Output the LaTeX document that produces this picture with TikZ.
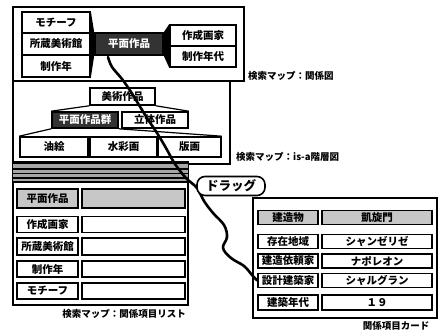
\documentclass[tikz,border=0pt]{standalone}
\usepackage{fontspec}
\setmainfont{Noto Sans CJK JP}
\begin{document}
\begin{tikzpicture}[x=1pt,y=-1pt,
  panel/.style={draw, line width=1.2pt, inner sep=0pt},
  box/.style={draw, line width=1.6pt, fill=white, inner sep=0pt, font=\bfseries\fontsize{10.5}{12}\selectfont},
  hatchbox/.style={box, fill=black!22},
  darkbox/.style={box, fill=black!80, text=white},
  capt/.style={font=\bfseries\fontsize{9.5}{11}\selectfont, inner sep=0pt},
  dragline/.style={line width=2.6pt, line cap=round, line join=round},
  linkline/.style={line width=1.2pt}]
\useasboundingbox (0,0) rectangle (441,336);

% ---------- top panel: relation map ----------
\node[panel, minimum width=231, minimum height=74] (relp) at (128.5,44) {};
\node[box, minimum width=68, minimum height=21] (l1) at (56,22.5) {モチーフ};
\node[box, minimum width=68, minimum height=21] (l2) at (56,44) {所蔵美術館};
\node[box, minimum width=68, minimum height=22] (l3) at (56,66) {制作年};
\node[darkbox, minimum width=68, minimum height=22] (hub) at (129,44) {平面作品};
\node[box, minimum width=66, minimum height=21] (r1) at (203,35.5) {作成画家};
\node[box, minimum width=66, minimum height=21] (r2) at (203,56.5) {制作年代};
\fill (l1.north east) -- (hub.north west) -- (hub.south west) -- (l3.south east) -- cycle;
\fill (hub.north east) -- (r1.north west) -- (r2.south west) -- (hub.south east) -- cycle;
\node[capt, anchor=west] (relcap) at (248,76) {検索マップ：関係図};

% ---------- middle panel: is-a hierarchy ----------
\node[panel, minimum width=217, minimum height=83] (isap) at (121.5,122.5) {};
\node[box, minimum width=65, minimum height=17] (art) at (122.5,96.5) {美術作品};
\node[darkbox, minimum width=66, minimum height=16] (flat) at (85,120) {平面作品群};
\node[box, minimum width=66, minimum height=16] (solid) at (155,120) {立体作品};
\node[box, minimum width=68, minimum height=20] (oil) at (54,147) {油絵};
\node[box, minimum width=67, minimum height=20] (water) at (123.5,147) {水彩画};
\node[box, minimum width=63, minimum height=20] (print) at (189.5,147) {版画};
\draw[linkline] (art.south west) -- (flat.north west);
\draw[linkline] (art.south east) -- (solid.north east);
\draw[linkline] (flat.south west) -- (oil.north west);
\draw[linkline] (flat.south east) -- (print.north east);
\node[capt, anchor=west] (isacap) at (236,157) {検索マップ：is-a階層図};

% ---------- bottom-left panel: item list ----------
\node[panel, minimum width=175, minimum height=143] (listp) at (100.5,233.5) {};
\fill[black!35] (13,162) rectangle (188,183);
\foreach \yy/\ww in {163/1.2, 169/2.2, 173.5/1.4, 178/2, 182/1.4}
  \draw[line width=\ww pt] (13,\yy) -- (188,\yy);
\node[hatchbox, minimum width=61, minimum height=19] (a0) at (47.5,198.5) {平面作品};
\node[hatchbox, minimum width=103, minimum height=19] (b0) at (133.5,198.5) {};
\node[box, minimum width=61, minimum height=16] (a1) at (47.5,224.5) {作成画家};
\node[box, minimum width=103, minimum height=16] (b1) at (133.5,224.5) {};
\node[box, minimum width=61, minimum height=17] (a2) at (47.5,246.5) {所蔵美術館};
\node[box, minimum width=103, minimum height=17] (b2) at (133.5,246.5) {};
\node[box, minimum width=61, minimum height=16] (a3) at (47.5,269) {制作年};
\node[box, minimum width=103, minimum height=16] (b3) at (133.5,269) {};
\node[box, minimum width=61, minimum height=16] (a4) at (47.5,291) {モチーフ};
\node[box, minimum width=103, minimum height=16] (b4) at (133.5,291) {};
\node[capt] (listcap) at (124,314) {検索マップ：関係項目リスト};

% ---------- bottom-right panel: item card ----------
\node[panel, minimum width=184, minimum height=120] (cardp) at (345,258) {};
\node[hatchbox, minimum width=60, minimum height=14] (k0) at (288,217.5) {建造物};
\node[hatchbox, minimum width=110, minimum height=14] (v0) at (377,217.5) {凱旋門};
\node[box, minimum width=60, minimum height=14] (k1) at (288,241.5) {存在地域};
\node[box, minimum width=110, minimum height=14] (v1) at (377,241.5) {シャンゼリゼ};
\node[box, minimum width=60, minimum height=14] (k2) at (288,261) {建造依頼家};
\node[box, minimum width=110, minimum height=14] (v2) at (377,261) {ナポレオン};
\node[box, minimum width=60, minimum height=14] (k3) at (288,280.5) {設計建築家};
\node[box, minimum width=110, minimum height=14] (v3) at (377,280.5) {シャルグラン};
\node[box, minimum width=60, minimum height=15] (k4) at (288,302.5) {建築年代};
\node[box, minimum width=110, minimum height=15] (v4) at (377,302.5) {１９};
\node[capt] (cardcap) at (396,326) {関係項目カード};

% ---------- drag stroke ----------
\coordinate (cstart) at (108,57);
\draw[dragline] plot[smooth, tension=0.6] coordinates {(cstart) (112,67) (122,79) (131,92) (139,105) (147,118) (157,133) (166,148) (175,164) (186,178) (197,188) (204,201) (213,213) (224,225) (227,237) (223,248) (231,258) (244,266) (252,275) (k3.west)};
\node[draw, line width=1.6pt, fill=white, rounded corners=8pt, minimum width=68, minimum height=19, inner sep=0pt, font=\bfseries\fontsize{12.5}{14}\selectfont] (drag) at (231,186) {ドラッグ};
\end{tikzpicture}
\end{document}
